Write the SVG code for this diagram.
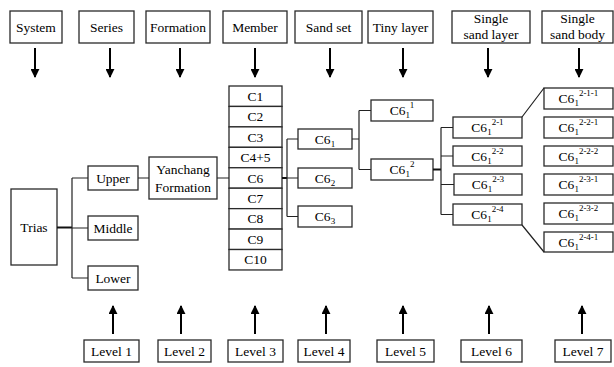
<svg xmlns="http://www.w3.org/2000/svg" width="614" height="367" viewBox="0 0 614 367" font-family="Liberation Serif, serif">
<style>
  rect { fill: #fff; stroke: #2a2a2a; stroke-width: 1.3; }
  text { font-size: 13.5px; fill: #000; text-anchor: middle; }
  .s { font-size: 9px; }
  .ln { fill: none; stroke: #222; stroke-width: 1.2; }
  .thk { fill: none; stroke: #111; stroke-width: 2; }
  .arr { fill: none; stroke: #000; stroke-width: 2; }
</style>
<defs>
  <marker id="ah" viewBox="0 0 10 10" refX="9" refY="5" markerWidth="4.5" markerHeight="4.5" orient="auto" markerUnits="strokeWidth">
    <path d="M0,0 L10,5 L0,10 Z" fill="#000"/>
  </marker>
</defs>

<!-- Header boxes -->
<g id="h-system"><rect x="10" y="11" width="52" height="32"/><text x="36" y="31.5">System</text></g>
<g id="h-series"><rect x="79" y="11" width="55" height="32"/><text x="106.5" y="31.5">Series</text></g>
<g id="h-formation"><rect x="146" y="11" width="64" height="32"/><text x="178" y="31.5">Formation</text></g>
<g id="h-member"><rect x="223" y="11" width="64" height="32"/><text x="255" y="31.5">Member</text></g>
<g id="h-sandset"><rect x="295" y="11" width="67" height="32"/><text x="328.5" y="31.5">Sand set</text></g>
<g id="h-tiny"><rect x="368" y="11" width="65" height="32"/><text x="400.5" y="31.5">Tiny layer</text></g>
<g id="h-ssl"><rect x="452" y="11" width="78" height="32"/><text x="491" y="23">Single</text><text x="491" y="38.5">sand layer</text></g>
<g id="h-ssb"><rect x="542" y="11" width="71" height="32"/><text x="577.5" y="23">Single</text><text x="577.5" y="38.5">sand body</text></g>

<!-- Level 1 -->
<g id="trias"><rect x="11" y="189" width="46" height="76"/><text x="34" y="231.5">Trias</text></g>
<!-- Level 2 -->
<g id="upper"><rect x="88" y="166" width="50" height="24"/><text x="113" y="182.5">Upper</text></g>
<g id="middle"><rect x="88" y="216" width="50" height="24"/><text x="113" y="232.5">Middle</text></g>
<g id="lower"><rect x="88" y="266" width="50" height="24"/><text x="113" y="282.5">Lower</text></g>
<!-- Level 3 (formation) -->
<g id="yanchang"><rect x="149" y="157" width="68" height="42"/><text x="183" y="173.5">Yanchang</text><text x="183" y="191.5">Formation</text></g>
<!-- Members -->
<g id="members">
  <rect x="229" y="86" width="53" height="20.44"/><text x="255.5" y="100.7">C1</text>
  <rect x="229" y="106.44" width="53" height="20.44"/><text x="255.5" y="121.2">C2</text>
  <rect x="229" y="126.88" width="53" height="20.44"/><text x="255.5" y="141.6">C3</text>
  <rect x="229" y="147.32" width="53" height="20.44"/><text x="255.5" y="162.1">C4+5</text>
  <rect x="229" y="167.76" width="53" height="20.44"/><text x="255.5" y="182.5">C6</text>
  <rect x="229" y="188.2" width="53" height="20.44"/><text x="255.5" y="202.9">C7</text>
  <rect x="229" y="208.64" width="53" height="20.44"/><text x="255.5" y="223.4">C8</text>
  <rect x="229" y="229.08" width="53" height="20.44"/><text x="255.5" y="243.8">C9</text>
  <rect x="229" y="249.52" width="53" height="20.44"/><text x="255.5" y="264.3">C10</text>
</g>
<!-- Sand sets -->
<g id="c6-1"><rect x="298" y="129" width="54" height="20"/><text x="325" y="143.5">C6<tspan class="s" dy="3">1</tspan></text></g>
<g id="c6-2"><rect x="298" y="168" width="54" height="20"/><text x="325" y="182.5">C6<tspan class="s" dy="3">2</tspan></text></g>
<g id="c6-3"><rect x="298" y="206" width="54" height="21"/><text x="325" y="221">C6<tspan class="s" dy="3">3</tspan></text></g>
<!-- Tiny layers -->
<g id="c61-1"><rect x="371" y="100" width="62" height="21"/><text x="402" y="115">C6<tspan class="s" dy="3">1</tspan><tspan class="s" dy="-10">1</tspan></text></g>
<g id="c61-2"><rect x="371" y="159" width="62" height="21"/><text x="402" y="174">C6<tspan class="s" dy="3">1</tspan><tspan class="s" dy="-10">2</tspan></text></g>
<!-- Single sand layers -->
<g id="c61-2-1"><rect x="453" y="117" width="69" height="21"/><text x="487.5" y="132">C6<tspan class="s" dy="3">1</tspan><tspan class="s" dy="-10">2-1</tspan></text></g>
<g id="c61-2-2"><rect x="453" y="146" width="69" height="20"/><text x="487.5" y="160.5">C6<tspan class="s" dy="3">1</tspan><tspan class="s" dy="-10">2-2</tspan></text></g>
<g id="c61-2-3"><rect x="454" y="174" width="68" height="21"/><text x="488" y="189">C6<tspan class="s" dy="3">1</tspan><tspan class="s" dy="-10">2-3</tspan></text></g>
<g id="c61-2-4"><rect x="453" y="204" width="69" height="21"/><text x="487.5" y="219">C6<tspan class="s" dy="3">1</tspan><tspan class="s" dy="-10">2-4</tspan></text></g>
<!-- Single sand bodies -->
<g id="c61-2-1-1"><rect x="544" y="88" width="69" height="21"/><text x="578.5" y="103">C6<tspan class="s" dy="3">1</tspan><tspan class="s" dy="-10">2-1-1</tspan></text></g>
<g id="c61-2-2-1"><rect x="544" y="117" width="69" height="21"/><text x="578.5" y="132">C6<tspan class="s" dy="3">1</tspan><tspan class="s" dy="-10">2-2-1</tspan></text></g>
<g id="c61-2-2-2"><rect x="544" y="146" width="69" height="20"/><text x="578.5" y="160.5">C6<tspan class="s" dy="3">1</tspan><tspan class="s" dy="-10">2-2-2</tspan></text></g>
<g id="c61-2-3-1"><rect x="544" y="174" width="69" height="21"/><text x="578.5" y="189">C6<tspan class="s" dy="3">1</tspan><tspan class="s" dy="-10">2-3-1</tspan></text></g>
<g id="c61-2-3-2"><rect x="544" y="203" width="69" height="21"/><text x="578.5" y="218">C6<tspan class="s" dy="3">1</tspan><tspan class="s" dy="-10">2-3-2</tspan></text></g>
<g id="c61-2-4-1"><rect x="544" y="232" width="69" height="20"/><text x="578.5" y="246.5">C6<tspan class="s" dy="3">1</tspan><tspan class="s" dy="-10">2-4-1</tspan></text></g>

<!-- Level labels -->
<g id="level1"><rect x="84" y="340" width="55" height="22"/><text x="111.5" y="355.5">Level 1</text></g>
<g id="level2"><rect x="158" y="340" width="53" height="22"/><text x="184.5" y="355.5">Level 2</text></g>
<g id="level3"><rect x="228" y="340" width="55" height="22"/><text x="255.5" y="355.5">Level 3</text></g>
<g id="level4"><rect x="298" y="340" width="52" height="22"/><text x="324" y="355.5">Level 4</text></g>
<g id="level5"><rect x="377" y="340" width="57" height="22"/><text x="405.5" y="355.5">Level 5</text></g>
<g id="level6"><rect x="461" y="340" width="61" height="22"/><text x="491.5" y="355.5">Level 6</text></g>
<g id="level7"><rect x="555" y="340" width="56" height="22"/><text x="583" y="355.5">Level 7</text></g>

<!-- Connectors -->
<g id="connectors">
  <path class="thk" d="M57,227.5 H72"/>
  <path class="ln" d="M72,178 V278 M72,178 H88 M72,228 H88 M72,278 H88"/>
  <path class="ln" d="M138,178 H149 M217,178 H229"/>
  <path class="thk" d="M282,178 H287"/>
  <path class="ln" d="M287,139 V216.5 M287,139 H298 M287,178 H298 M287,216.5 H298"/>
  <path class="ln" d="M352,139 H359 M359,110.5 V169.5 M359,110.5 H371 M359,169.5 H371"/>
  <path class="thk" d="M433,169.5 H441"/>
  <path class="ln" d="M441,127.5 V214.5 M441,127.5 H453 M441,156 H453 M441,184.5 H454 M441,214.5 H453"/>
  <path class="ln" d="M522,117 L544,88 M522,225 L544,252"/>
  <!-- down arrows -->
  <path class="arr" marker-end="url(#ah)" d="M35,48 V77"/>
  <path class="arr" marker-end="url(#ah)" d="M110,48 V77"/>
  <path class="arr" marker-end="url(#ah)" d="M180,48 V77"/>
  <path class="arr" marker-end="url(#ah)" d="M255,48 V77"/>
  <path class="arr" marker-end="url(#ah)" d="M330,48 V77"/>
  <path class="arr" marker-end="url(#ah)" d="M403,48 V77"/>
  <path class="arr" marker-end="url(#ah)" d="M488,48 V77"/>
  <path class="arr" marker-end="url(#ah)" d="M579,48 V77"/>
  <!-- up arrows -->
  <path class="arr" marker-end="url(#ah)" d="M113,334 V306"/>
  <path class="arr" marker-end="url(#ah)" d="M181,334 V306"/>
  <path class="arr" marker-end="url(#ah)" d="M255,334 V306"/>
  <path class="arr" marker-end="url(#ah)" d="M326,334 V306"/>
  <path class="arr" marker-end="url(#ah)" d="M403,334 V306"/>
  <path class="arr" marker-end="url(#ah)" d="M489,334 V306"/>
  <path class="arr" marker-end="url(#ah)" d="M582,334 V306"/>
</g>
</svg>
